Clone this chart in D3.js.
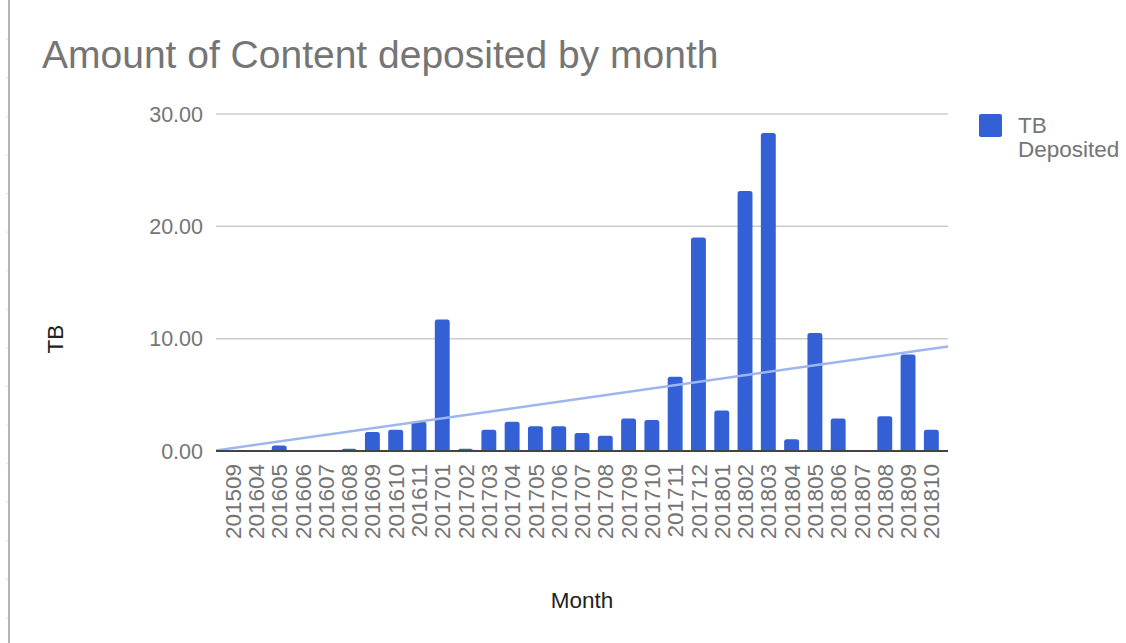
<!DOCTYPE html>
<html>
<head>
<meta charset="utf-8">
<script src="https://cdn.jsdelivr.net/npm/d3@7"></script>
<style>
  body { margin: 0; background: #fff; }
  svg { display: block; font-family: "Liberation Sans", Arial, sans-serif; }
</style>
</head>
<body>
<script>
// months on the x axis
var months = ["201509", "201604", "201605", "201606", "201607", "201608", "201609", "201610",
    "201611", "201701", "201702", "201703", "201704", "201705", "201706", "201707", "201708",
    "201709", "201710", "201711", "201712", "201801", "201802", "201803", "201804", "201805",
    "201806", "201807", "201808", "201809", "201810"];

// TB deposited per month
var tbDeposited = [0.05, 0, 0.5, 0, 0.05, 0.2, 1.7, 1.9, 2.6, 11.7, 0.2, 1.9, 2.6, 2.2, 2.2, 1.6,
    1.35, 2.9, 2.75, 6.6, 19.0, 3.6, 23.15, 28.3, 1.05, 10.5, 2.9, 0, 3.1, 8.6, 1.9];

var yTicks = [0, 10, 20, 30];

var width = 1126, height = 643;
var margin = {top: 114, right: 178, bottom: 192, left: 216};
var plotW = width - margin.left - margin.right,
    plotH = height - margin.top - margin.bottom;

var barColor = "#3360d4";

var svg = d3.select("body").append("svg")
    .attr("width", width)
    .attr("height", height);

// left edge of the screenshot
svg.append("line")
    .attr("x1", 9).attr("x2", 9)
    .attr("y1", 0).attr("y2", height)
    .style("stroke", "#b5b5b5")
    .style("stroke-width", 2);
svg.selectAll(".edgetick")
    .data(d3.range(1, 17))
    .enter()
    .append("line")
    .attr("x1", 6).attr("x2", 8)
    .attr("y1", function(d) { return d * 38.6 + 0.5; })
    .attr("y2", function(d) { return d * 38.6 + 0.5; })
    .style("stroke", "#e0e0e0");

var g = svg.append("g")
    .attr("transform", "translate(" + margin.left + "," + margin.top + ")");

var x = d3.scaleBand().domain(months).range([5, plotW - 5]).paddingInner(0.36).paddingOuter(0.18);
var y = d3.scaleLinear().domain([0, 30]).range([plotH, 0]);

// gridlines
g.selectAll(".grid")
    .data(yTicks.slice(1))
    .enter()
    .append("line")
    .attr("x1", 0).attr("x2", plotW)
    .attr("y1", function(d) { return y(d); })
    .attr("y2", function(d) { return y(d); })
    .style("stroke", "#cccccc")
    .style("stroke-width", 1.5);

// y tick labels
g.selectAll(".ylab")
    .data(yTicks)
    .enter()
    .append("text")
    .attr("x", -13)
    .attr("y", function(d) { return y(d); })
    .attr("dy", "0.36em")
    .attr("text-anchor", "end")
    .style("font-size", "21.5px")
    .style("fill", "#757575")
    .text(function(d) { return d3.format(".2f")(d); });

// bars, rounded on top
var r = 2.5;
g.selectAll(".bar")
    .data(tbDeposited)
    .enter()
    .append("path")
    .attr("fill", barColor)
    .attr("d", function(d, i) {
        var x0 = x(months[i]), w = x.bandwidth(), y0 = y(0), y1 = y(d);
        var h = y0 - y1;
        if (h <= 0) return null;
        var rr = Math.min(r, h);
        return "M" + x0 + "," + y0 +
            "V" + (y1 + rr) +
            "Q" + x0 + "," + y1 + " " + (x0 + rr) + "," + y1 +
            "H" + (x0 + w - rr) +
            "Q" + (x0 + w) + "," + y1 + " " + (x0 + w) + "," + (y1 + rr) +
            "V" + y0 + "Z";
    });

// linear trendline (least squares on month index)
var n = tbDeposited.length;
var meanX = (n - 1) / 2, meanY = d3.mean(tbDeposited);
var sxy = d3.sum(tbDeposited, function(v, i) { return (i - meanX) * (v - meanY); });
var sxx = d3.sum(tbDeposited, function(v, i) { return (i - meanX) * (i - meanX); });
var slope = sxy / sxx, icpt = meanY - slope * meanX;
var step = x.step();
var idxToX = function(i) { return x(months[0]) + x.bandwidth() / 2 + i * step; };
var iLeft = (0 - idxToX(0)) / step, iRight = (plotW - idxToX(0)) / step;

g.append("line")
    .attr("x1", 0).attr("x2", plotW)
    .attr("y1", y(Math.max(0, icpt + slope * iLeft)))
    .attr("y2", y(icpt + slope * iRight))
    .style("stroke", "#9db6f0")
    .style("stroke-width", 2.5);

// baseline
g.append("line")
    .attr("x1", 0).attr("x2", plotW)
    .attr("y1", y(0)).attr("y2", y(0))
    .style("stroke", "#444")
    .style("stroke-width", 2);

// x labels, rotated
g.selectAll(".xlab")
    .data(months)
    .enter()
    .append("text")
    .attr("transform", function(d) {
        return "translate(" + (x(d) + x.bandwidth() / 2) + "," + (plotH + 13) + ") rotate(-90)";
    })
    .attr("dy", "0.36em")
    .attr("text-anchor", "end")
    .style("font-size", "22.5px")
    .style("fill", "#757575")
    .text(function(d) { return d; });

// title
svg.append("text")
    .attr("x", 42)
    .attr("y", 68)
    .style("font-size", "39px")
    .style("fill", "#757575")
    .text("Amount of Content deposited by month");

// axis titles
svg.append("text")
    .attr("transform", "translate(63,339) rotate(-90)")
    .attr("text-anchor", "middle")
    .style("font-size", "22.5px")
    .style("fill", "#222")
    .text("TB");

svg.append("text")
    .attr("x", margin.left + plotW / 2)
    .attr("y", 608)
    .attr("text-anchor", "middle")
    .style("font-size", "22.5px")
    .style("fill", "#222")
    .text("Month");

// legend
svg.append("rect")
    .attr("x", 979).attr("y", 114)
    .attr("width", 23).attr("height", 23)
    .attr("rx", 2)
    .attr("fill", barColor);

svg.append("text")
    .attr("x", 1018)
    .attr("y", 133)
    .style("font-size", "22.5px")
    .style("fill", "#757575")
    .selectAll("tspan")
    .data(["TB", "Deposited"])
    .enter()
    .append("tspan")
    .attr("x", 1018)
    .attr("dy", function(d, i) { return i === 0 ? 0 : "1.06em"; })
    .text(function(d) { return d; });
</script>
</body>
</html>
